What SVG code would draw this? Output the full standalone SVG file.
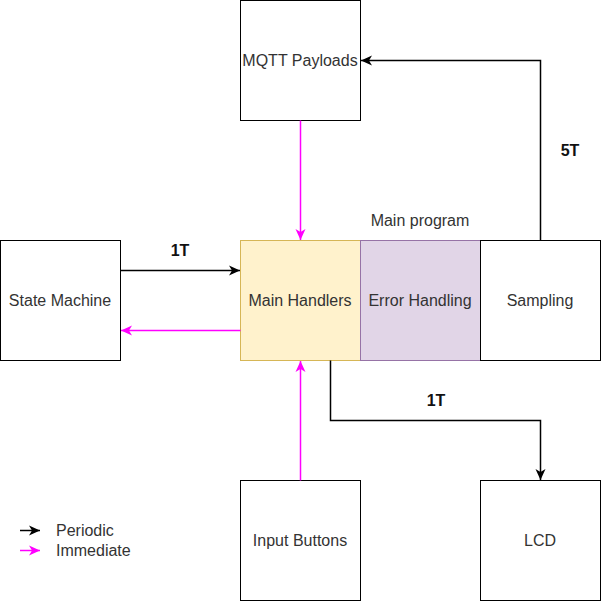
<svg xmlns="http://www.w3.org/2000/svg" width="601" height="601" viewBox="0 0 601 601">
<style>
text{font-family:Helvetica,"Liberation Sans",Arial,sans-serif;font-size:16px;fill:#333;text-anchor:middle;dominant-baseline:central}
.b{font-weight:bold;fill:#111}
.box{fill:#fff;stroke:#000;stroke-width:1}
.k{fill:none;stroke:#000;stroke-width:1.5}
.m{fill:none;stroke:#f0f;stroke-width:1.5}
</style>
<defs>
<marker id="ak" markerUnits="userSpaceOnUse" markerWidth="12" markerHeight="12" refX="11" refY="6" orient="auto" viewBox="0 0 12 12"><path d="M0,1 L11,6 L0,11 L3,6 Z" fill="#000"/></marker>
<marker id="am" markerUnits="userSpaceOnUse" markerWidth="12" markerHeight="12" refX="11" refY="6" orient="auto" viewBox="0 0 12 12"><path d="M0,1 L11,6 L0,11 L3,6 Z" fill="#f0f"/></marker>
</defs>
<rect width="601" height="601" fill="#fff"/>
<g id="mqtt"><rect class="box" x="240.5" y="0.5" width="120" height="120"/><text x="300" y="60">MQTT Payloads</text></g>
<g id="state"><rect class="box" x="0.5" y="240.5" width="120" height="120"/><text x="60" y="300">State Machine</text></g>
<g id="main"><rect x="240.5" y="240.5" width="120" height="120" fill="#fff2cc" stroke="#d6b656"/><text x="300" y="300">Main Handlers</text></g>
<g id="error"><rect x="360.5" y="240.5" width="120" height="120" fill="#e1d5e7" stroke="#9673a6"/><text x="420" y="300">Error Handling</text></g>
<g id="sampling"><rect class="box" x="480.5" y="240.5" width="120" height="120"/><text x="540" y="300">Sampling</text></g>
<g id="input"><rect class="box" x="240.5" y="480.5" width="120" height="120"/><text x="300" y="540">Input Buttons</text></g>
<g id="lcd"><rect class="box" x="480.5" y="480.5" width="120" height="120"/><text x="540" y="540">LCD</text></g>
<g id="label-main"><text x="420" y="220">Main program</text></g>
<g id="connectors">
<path class="k" d="M120.5,270.5 H240" marker-end="url(#ak)"/>
<path class="m" d="M240.5,330.5 H121" marker-end="url(#am)"/>
<path class="m" d="M300.5,120.5 V240" marker-end="url(#am)"/>
<path class="m" d="M300.5,480.5 V361" marker-end="url(#am)"/>
<path class="k" d="M540.5,240.5 V60.5 H361" marker-end="url(#ak)"/>
<path class="k" d="M330.5,360.5 V420.5 H540.5 V480" marker-end="url(#ak)"/>
<text class="b" x="180" y="250">1T</text>
<text class="b" x="570" y="150">5T</text>
<text class="b" x="436" y="400">1T</text>
</g>
<g id="legend">
<path class="k" d="M20,530.5 H40" marker-end="url(#ak)"/>
<path class="m" d="M20,550.5 H40" marker-end="url(#am)"/>
<text x="56" y="530" style="text-anchor:start">Periodic</text>
<text x="56" y="550" style="text-anchor:start">Immediate</text>
</g>
</svg>
